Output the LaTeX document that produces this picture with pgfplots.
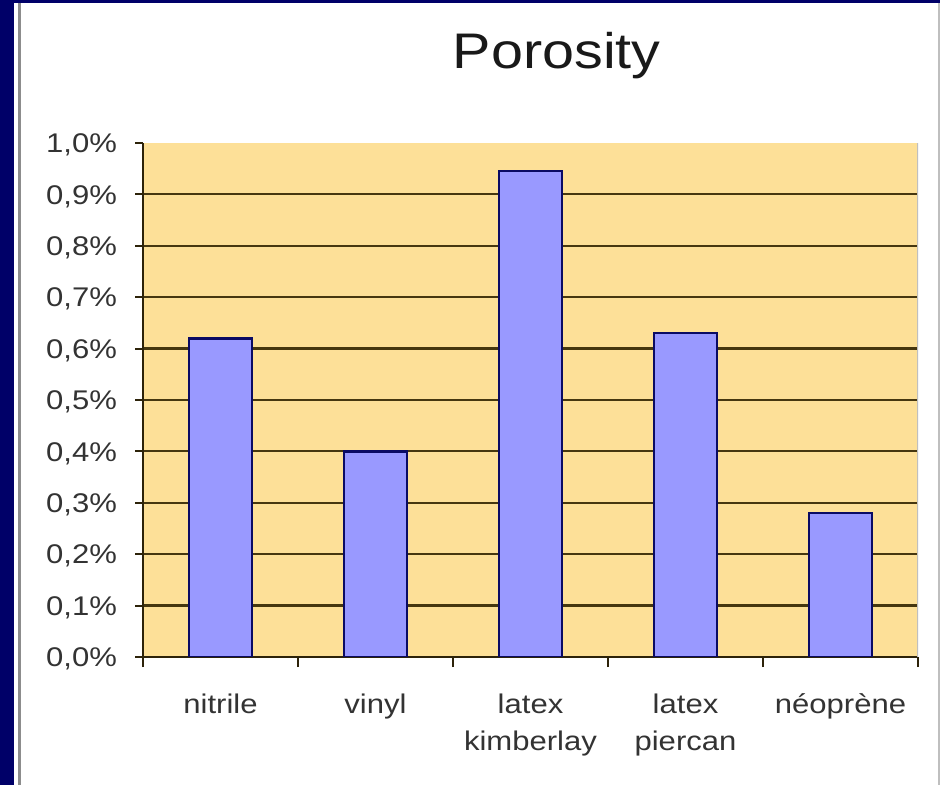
\documentclass[border=0pt]{standalone}
\usepackage{pgfplots}
\pgfplotsset{compat=1.18}
\usepackage{fontspec}
\setmainfont{Liberation Sans}[FakeStretch=1.15]

\definecolor{navybg}{RGB}{0,0,104}
\definecolor{plotfill}{RGB}{253,224,152}
\definecolor{barfill}{RGB}{153,153,255}
\definecolor{baredge}{RGB}{10,10,100}
\definecolor{gridc}{RGB}{70,55,15}
\definecolor{axisc}{RGB}{45,35,10}

\begin{document}
\begin{tikzpicture}[x=0.5pt,y=0.5pt]
% slide frame and white panel
\useasboundingbox (0,0) rectangle (940,785);
\fill[navybg] (0,0) rectangle (940,785);
\fill[white] (14,0) rectangle (940,782);
\draw[black!45, line width=1.5pt] (19,0) -- (19,782);
\draw[black!25, line width=1pt] (938.5,0) -- (938.5,782);

\begin{axis}[
  at={(71.5pt,64pt)}, anchor=south west,
  scale only axis, width=387.5pt, height=257pt,
  xmin=-0.5, xmax=4.5, ymin=0, ymax=1,
  axis background/.style={fill=plotfill},
  axis x line*=bottom, axis y line*=left,
  axis line style={-, draw=axisc, line width=1.2pt},
  ybar, bar width=31.5pt,
  xtick={0,1,2,3,4},
  xticklabels={nitrile, vinyl, {latex\\kimberlay}, {latex\\piercan}, néoprène},
  major x tick style={draw=none},
  minor xtick={-0.5,0.5,1.5,2.5,3.5,4.5},
  minor x tick style={draw=axisc, line width=1pt},
  ytick={0,0.1,...,1.0},
  minor ytick={0.1,0.2,...,0.9},
  yminorgrids,
  minor y tick style={draw=none},
  minor grid style={draw=gridc, line width=1.1pt},
  major y tick style={draw=axisc, line width=1pt},
  tick align=outside, major tick length=4pt, minor tick length=5pt,
  /pgf/number format/assume math mode=true,
  yticklabel={\pgfmathprintnumber[fixed,fixed zerofill,precision=1,use comma]{\tick}\%},
  tick label style={font=\fontsize{13.5}{18.5}\selectfont, text=black!80},
  x tick label style={align=center, anchor=north, yshift=-11pt},
  y tick label style={xshift=-5.5pt, yshift=-1pt},
  title={Porosity},
  title style={font=\fontsize{25}{30}\selectfont, text=black!90, at={(0.534,1.121)}, anchor=base},
]
\addplot[fill=barfill, draw=baredge, line width=1.2pt]
  coordinates {(0,0.62) (1,0.40) (2,0.945) (3,0.63) (4,0.28)};
\draw[black!25, line width=1pt] (rel axis cs:1,0) -- (rel axis cs:1,1);
\end{axis}
\end{tikzpicture}
\end{document}
